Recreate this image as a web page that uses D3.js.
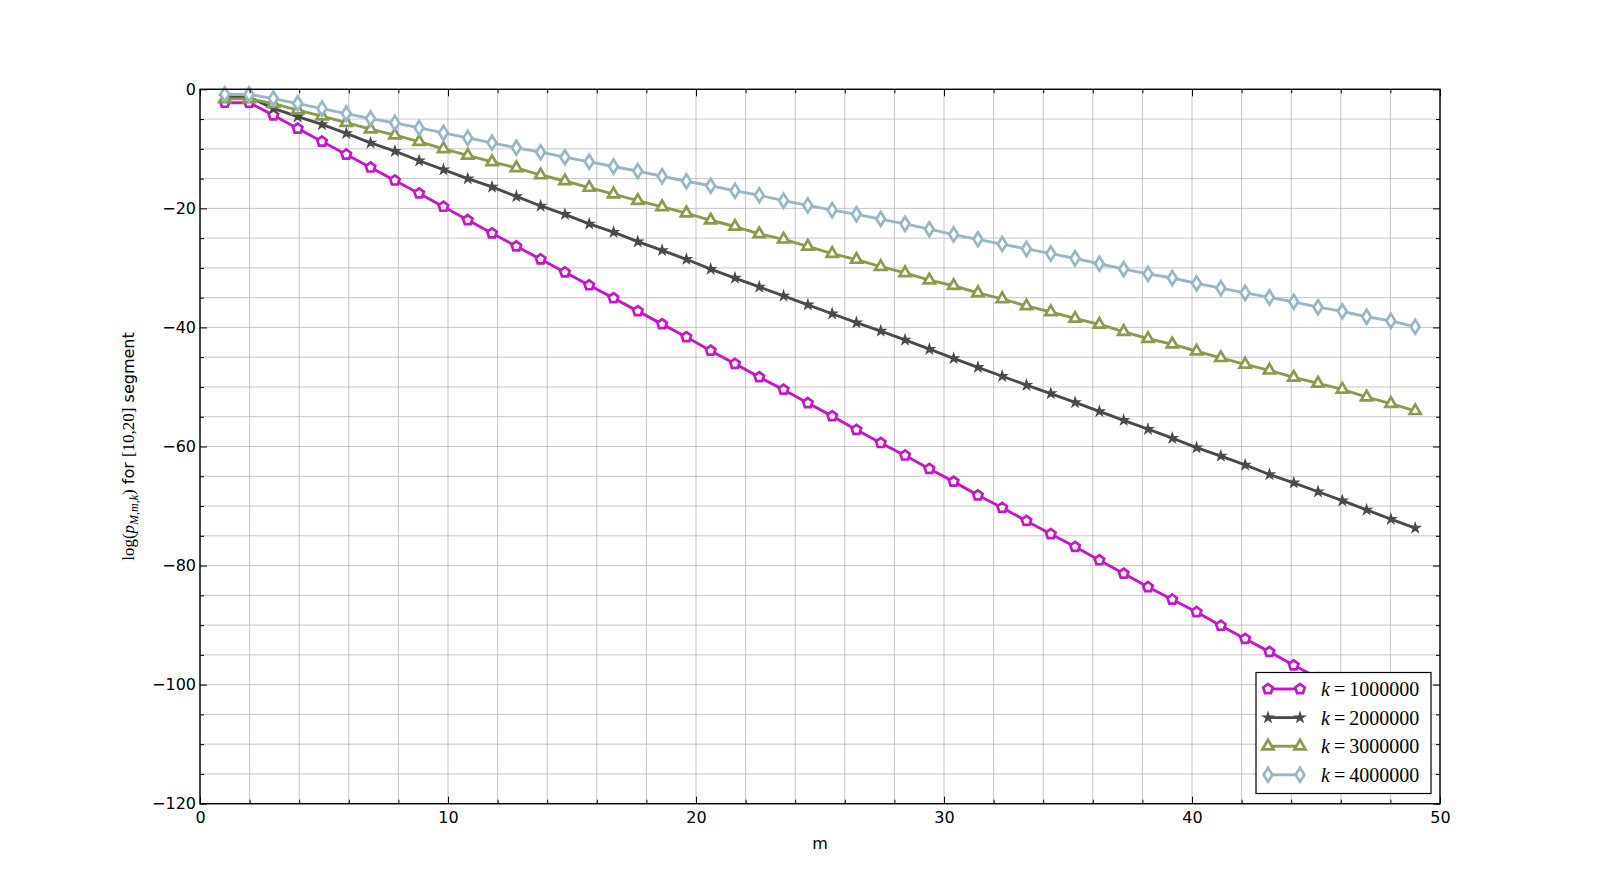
<!DOCTYPE html>
<html>
<head>
<meta charset="utf-8">
<script src="https://cdn.jsdelivr.net/npm/d3@7"></script>
<style>
  html, body { margin: 0; padding: 0; background: #fff; }
  svg { display: block; }
</style>
</head>
<body>
<svg id="chart" width="1600" height="893"></svg>
<script>
// ---------- data ----------
const mValues = [1.0000, 1.9796, 2.9592, 3.9388, 4.9184, 5.8980, 6.8776, 7.8571, 8.8367, 9.8163,
  10.7959, 11.7755, 12.7551, 13.7347, 14.7143, 15.6939, 16.6735, 17.6531, 18.6327, 19.6122,
  20.5918, 21.5714, 22.5510, 23.5306, 24.5102, 25.4898, 26.4694, 27.4490, 28.4286, 29.4082,
  30.3878, 31.3673, 32.3469, 33.3265, 34.3061, 35.2857, 36.2653, 37.2449, 38.2245, 39.2041,
  40.1837, 41.1633, 42.1429, 43.1224, 44.1020, 45.0816, 46.0612, 47.0408, 48.0204, 49.0000];

const k1000000 = [-2.25, -2.25, -4.36, -6.59, -8.77, -10.95, -13.13, -15.31, -17.49, -19.72,
  -21.96, -24.19, -26.37, -28.55, -30.73, -32.91, -35.08, -37.26, -39.44, -41.62,
  -43.9, -46.1, -48.35, -50.45, -52.7, -54.9, -57.2, -59.4, -61.5, -63.75,
  -65.9, -68.2, -70.3, -72.5, -74.7, -76.85, -79.1, -81.35, -83.6, -85.7,
  -87.8, -90.1, -92.3, -94.5, -96.75, -98.9, -101.1, -103.3, -105.5, -107.7];

const k2000000 = [-1.3, -1.3, -3.2, -4.6, -5.9, -7.4, -9.0, -10.4, -12.0, -13.5,
  -15.0, -16.4, -18.0, -19.6, -21.0, -22.6, -24.0, -25.6, -27.05, -28.55,
  -30.2, -31.7, -33.2, -34.7, -36.2, -37.7, -39.2, -40.6, -42.1, -43.65,
  -45.2, -46.7, -48.2, -49.7, -51.1, -52.6, -54.1, -55.6, -57.1, -58.6,
  -60.2, -61.6, -63.1, -64.7, -66.1, -67.6, -69.1, -70.65, -72.2, -73.7];

const k3000000 = [-1.6, -1.6, -2.4, -3.5, -4.5, -5.6, -6.7, -7.7, -8.8, -10.0,
  -11.1, -12.2, -13.2, -14.4, -15.4, -16.5, -17.6, -18.7, -19.75, -20.8,
  -22.0, -23.05, -24.3, -25.2, -26.4, -27.6, -28.6, -29.8, -30.85, -32.05,
  -33.0, -34.2, -35.2, -36.4, -37.4, -38.5, -39.5, -40.7, -41.9, -42.8,
  -44.0, -45.1, -46.2, -47.2, -48.4, -49.4, -50.4, -51.7, -52.8, -54.0];

const k4000000 = [-0.85, -0.85, -1.56, -2.4, -3.24, -4.08, -4.92, -5.64, -6.48, -7.32,
  -8.16, -8.99, -9.83, -10.56, -11.4, -12.18, -12.96, -13.74, -14.6, -15.45,
  -16.2, -17.05, -17.8, -18.7, -19.5, -20.3, -21.0, -21.8, -22.6, -23.5,
  -24.4, -25.2, -26.0, -26.8, -27.6, -28.4, -29.3, -30.2, -31.0, -31.7,
  -32.6, -33.4, -34.2, -34.95, -35.7, -36.6, -37.3, -38.2, -38.9, -39.9];

const seriesNames = ["1000000", "2000000", "3000000", "4000000"];
const xTicks = [0, 10, 20, 30, 40, 50];
const xMinorTicks = [2, 4, 6, 8, 12, 14, 16, 18, 22, 24, 26, 28, 32, 34, 36, 38, 42, 44, 46, 48];
const yTicks = [0, -20, -40, -60, -80, -100, -120];
const yMinorTicks = [-5, -10, -15, -25, -30, -35, -45, -50, -55, -65, -70, -75, -85, -90, -95, -105, -110, -115];

// ---------- layout ----------
const W = 1600, H = 893;
const L = 200, R = 1440, T = 89.3, B = 803.7;
const svg = d3.select("#chart");

const x = d3.scaleLinear().domain([0, 50]).range([L, R]);
const y = d3.scaleLinear().domain([-120, 0]).range([B, T]);

const styles = [
  { values: k1000000, color: "#c517c5", marker: "pentagon" },
  { values: k2000000, color: "#4a4a4a", marker: "star" },
  { values: k3000000, color: "#8a9a4e", marker: "triangle" },
  { values: k4000000, color: "#98b6c4", marker: "diamond" }
];

// ---------- grid ----------
const grid = svg.append("g").attr("stroke", "#c0c0c0").attr("stroke-width", 0.9);
[...xTicks, ...xMinorTicks].forEach(v => {
  grid.append("line").attr("x1", x(v)).attr("x2", x(v)).attr("y1", T).attr("y2", B);
});
[...yTicks, ...yMinorTicks].forEach(v => {
  grid.append("line").attr("x1", L).attr("x2", R).attr("y1", y(v)).attr("y2", y(v));
});

// ---------- marker shapes ----------
function regularPoly(n, r, rot) {
  const pts = [];
  for (let i = 0; i < n; i++) {
    const a = rot + i * 2 * Math.PI / n;
    pts.push([r * Math.cos(a), r * Math.sin(a)]);
  }
  return "M" + pts.map(p => p[0].toFixed(2) + "," + p[1].toFixed(2)).join("L") + "Z";
}
function markerPath(type) {
  if (type === "pentagon") return regularPoly(5, 5.0, -Math.PI / 2);
  if (type === "triangle") return regularPoly(3, 6.4, -Math.PI / 2);
  if (type === "diamond") return "M0,-7L4.4,0L0,7L-4.4,0Z";
  if (type === "star") return d3.symbol(d3.symbolStar, 12)();
  return "";
}

// ---------- series ----------
const plotG = svg.append("g");
styles.forEach(s => {
  const pts = mValues.map((m, i) => [m, s.values[i]]);
  const line = d3.line().x(d => x(d[0])).y(d => y(d[1]));
  plotG.append("path").datum(pts)
    .attr("d", line)
    .attr("fill", "none")
    .attr("stroke", s.color)
    .attr("stroke-width", 2.9)
    .attr("stroke-linejoin", "round");
  const filled = s.marker === "star";
  plotG.append("g").selectAll("path").data(pts).join("path")
    .attr("transform", d => `translate(${x(d[0])},${y(d[1])})`)
    .attr("d", markerPath(s.marker))
    .attr("fill", filled ? s.color : "#fff")
    .attr("stroke", s.color)
    .attr("stroke-width", filled ? 2.4 : 2.7)
    .attr("stroke-linejoin", "miter");
});

// ---------- axes ----------
const fmt = d3.format("d");
const axisFont = "'DejaVu Sans', sans-serif";
function styleAxis(g) {
  g.select(".domain").remove();
  g.selectAll(".tick line").attr("stroke", "#000").attr("stroke-width", 1);
  g.selectAll("text").attr("font-family", axisFont).attr("font-size", 16).attr("fill", "#000");
}
// bottom
svg.append("g").attr("transform", `translate(0,${B})`)
  .call(d3.axisBottom(x).tickValues(xTicks).tickFormat(fmt).tickSizeInner(-7).tickSizeOuter(0).tickPadding(8))
  .call(styleAxis);
svg.append("g").attr("transform", `translate(0,${B})`)
  .call(d3.axisBottom(x).tickValues(xMinorTicks).tickFormat("").tickSizeInner(-4).tickSizeOuter(0))
  .call(styleAxis);
// top
svg.append("g").attr("transform", `translate(0,${T})`)
  .call(d3.axisTop(x).tickValues(xTicks).tickFormat("").tickSizeInner(-7).tickSizeOuter(0))
  .call(styleAxis);
svg.append("g").attr("transform", `translate(0,${T})`)
  .call(d3.axisTop(x).tickValues(xMinorTicks).tickFormat("").tickSizeInner(-4).tickSizeOuter(0))
  .call(styleAxis);
// left
svg.append("g").attr("transform", `translate(${L},0)`)
  .call(d3.axisLeft(y).tickValues(yTicks).tickFormat(fmt).tickSizeInner(-7).tickSizeOuter(0).tickPadding(4))
  .call(styleAxis);
svg.append("g").attr("transform", `translate(${L},0)`)
  .call(d3.axisLeft(y).tickValues(yMinorTicks).tickFormat("").tickSizeInner(-4).tickSizeOuter(0))
  .call(styleAxis);
// right
svg.append("g").attr("transform", `translate(${R},0)`)
  .call(d3.axisRight(y).tickValues(yTicks).tickFormat("").tickSizeInner(-7).tickSizeOuter(0))
  .call(styleAxis);
svg.append("g").attr("transform", `translate(${R},0)`)
  .call(d3.axisRight(y).tickValues(yMinorTicks).tickFormat("").tickSizeInner(-4).tickSizeOuter(0))
  .call(styleAxis);

// frame
svg.append("rect").attr("x", L).attr("y", T).attr("width", R - L).attr("height", B - T)
  .attr("fill", "none").attr("stroke", "#000").attr("stroke-width", 1.4);

// ---------- axis labels ----------
svg.append("text").attr("x", (L + R) / 2).attr("y", 849)
  .attr("text-anchor", "middle").attr("font-family", axisFont).attr("font-size", 16)
  .text("m");

const serif = "'Liberation Serif', 'DejaVu Serif', serif";
const yl = svg.append("text")
  .attr("transform", `translate(134,${(T + B) / 2}) rotate(-90)`)
  .attr("text-anchor", "middle").attr("font-size", 16).attr("fill", "#000");
yl.append("tspan").attr("font-family", serif).attr("font-size", 17).text("log(");
yl.append("tspan").attr("font-family", serif).attr("font-size", 17).attr("font-style", "italic").text("p");
yl.append("tspan").attr("font-family", serif).attr("font-size", 12).attr("font-style", "italic").attr("dy", 4).text("M,m,k");
yl.append("tspan").attr("font-family", serif).attr("font-size", 17).attr("dy", -4).text(")");
yl.append("tspan").attr("font-family", axisFont).text(" for ");
yl.append("tspan").attr("font-family", serif).attr("font-size", 17).text("[10,20]");
yl.append("tspan").attr("font-family", axisFont).text(" segment");

// ---------- legend ----------
const lg = svg.append("g");
const lgX = 1256, lgY = 672.5, lgW = 175, lgH = 121;
lg.append("rect").attr("x", lgX).attr("y", lgY).attr("width", lgW).attr("height", lgH)
  .attr("fill", "#fff").attr("stroke", "#000").attr("stroke-width", 1.2);
styles.forEach((s, i) => {
  const cy = lgY + 16.5 + i * 28.6;
  const x1 = lgX + 12, x2 = lgX + 44;
  lg.append("line").attr("x1", x1).attr("x2", x2).attr("y1", cy).attr("y2", cy)
    .attr("stroke", s.color).attr("stroke-width", 2.9);
  const filled = s.marker === "star";
  [x1, x2].forEach(px => {
    lg.append("path").attr("transform", `translate(${px},${cy})`)
      .attr("d", markerPath(s.marker))
      .attr("fill", filled ? s.color : "#fff")
      .attr("stroke", s.color)
      .attr("stroke-width", filled ? 2.4 : 2.7);
  });
  const t = lg.append("text").attr("x", lgX + 65).attr("y", cy + 7)
    .attr("font-family", serif).attr("font-size", 20).attr("fill", "#000");
  t.append("tspan").attr("font-style", "italic").text("k");
  t.append("tspan").attr("dx", 4).text("=");
  t.append("tspan").attr("dx", 4).text(seriesNames[i]);
});
</script>
</body>
</html>
